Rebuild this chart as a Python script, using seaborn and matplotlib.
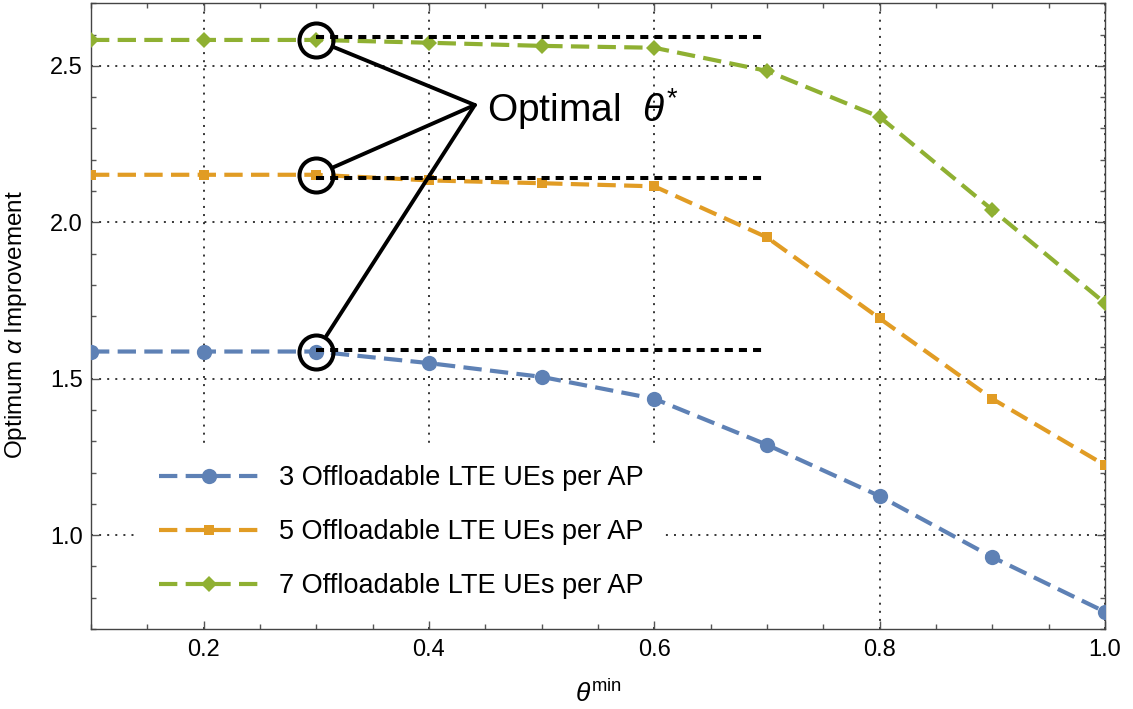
import matplotlib
matplotlib.use("Agg")
import matplotlib.pyplot as plt
from matplotlib.ticker import MultipleLocator
import seaborn as sns

# Optimum alpha improvement versus the minimum theta threshold
theta_min = [0.1, 0.2, 0.3, 0.4, 0.5, 0.6, 0.7, 0.8, 0.9, 1.0]
ues_3 = [1.587, 1.587, 1.587, 1.550, 1.506, 1.436, 1.289, 1.125, 0.930, 0.755]
ues_5 = [2.152, 2.152, 2.152, 2.134, 2.125, 2.115, 1.952, 1.693, 1.436, 1.224]
ues_7 = [2.583, 2.583, 2.583, 2.574, 2.564, 2.558, 2.484, 2.337, 2.040, 1.742]
series_labels = [
    "3 Offloadable LTE UEs per AP",
    "5 Offloadable LTE UEs per AP",
    "7 Offloadable LTE UEs per AP",
]

# Optimal operating point and the plateau levels it reaches
theta_opt = 0.3
opt_levels = [1.592, 2.141, 2.593]
opt_span = [0.3, 0.7]
annot_text = "Optimal  $\\theta^{*}$"

colors = ["#5E81B5", "#E19C24", "#8FB032"]
markers = ["o", "s", "D"]
marker_sizes = [11.0, 7.5, 8.5]

sns.set_theme(style="ticks")
plt.rcParams["font.family"] = ["Liberation Sans", "DejaVu Sans"]
plt.rcParams["text.color"] = "black"
plt.rcParams["axes.labelcolor"] = "black"
plt.rcParams["mathtext.fontset"] = "custom"
plt.rcParams["mathtext.rm"] = "Liberation Sans"
plt.rcParams["mathtext.it"] = "Liberation Sans:italic"
plt.rcParams["mathtext.bf"] = "Liberation Sans:bold"

fig = plt.figure(figsize=(11.33, 7.09), dpi=100)
ax = fig.add_axes([0.0803, 0.1128, 0.8949, 0.8825])

dash = (0, (4.4, 2.0))
for vals, lab, col, mk, ms in zip([ues_3, ues_5, ues_7], series_labels, colors, markers, marker_sizes):
    sns.lineplot(x=theta_min, y=vals, ax=ax, color=col, lw=3.0, linestyle=dash,
                 marker=mk, markersize=ms, markeredgewidth=0, label=lab, zorder=3)

# Plateau reference lines from the optimal threshold
for v in opt_levels:
    ax.plot(opt_span, [v, v], color="black", lw=2.9, linestyle=(0, (2.0, 1.5)), zorder=4)

# Circles around the optimal points and callout lines
opt_vals = [s[theta_min.index(theta_opt)] for s in (ues_3, ues_5, ues_7)]
ax.plot([theta_opt] * 3, opt_vals, "o", mfc="none", mec="black", ms=24.5, mew=2.9, zorder=6)
apex = (0.4407, 2.375)
for v in opt_vals:
    ax.annotate("", xy=(theta_opt, v), xytext=apex,
                arrowprops=dict(arrowstyle="-", color="black", lw=2.8,
                                shrinkA=0, shrinkB=13.5), zorder=6)
ax.text(0.4513, 2.321, annot_text, fontsize=28, color="black",
        ha="left", va="baseline", zorder=6)

ax.set_xlim(0.1, 1.0)
ax.set_ylim(0.70, 2.70)
ax.xaxis.set_major_locator(MultipleLocator(0.2))
ax.xaxis.set_minor_locator(MultipleLocator(0.05))
ax.yaxis.set_major_locator(MultipleLocator(0.5))
ax.yaxis.set_minor_locator(MultipleLocator(0.1))

ax.grid(True, which="major", color="black", lw=1.1, linestyle=(0, (1.3, 4.0)))
ax.set_axisbelow(True)

ax.tick_params(which="both", direction="in", top=True, right=True,
               color="#555555", width=1.0, labelsize=17, labelcolor="black")
ax.tick_params(which="major", length=6)
ax.tick_params(which="minor", length=3.5)
ax.tick_params(axis="x", pad=7.5)
ax.tick_params(axis="y", pad=6)
for sp in ax.spines.values():
    sp.set_visible(True)
    sp.set_color("#444444")
    sp.set_linewidth(1.0)

ax.set_xlabel("$\\theta^{\\mathrm{min}}$", fontsize=19, va="top")
ax.xaxis.set_label_coords(0.5, -0.082)
ax.set_ylabel("Optimum $\\alpha$ Improvement", fontsize=17.5)
ax.yaxis.set_label_coords(-0.061, 0.486)

leg = ax.legend(loc="upper left", bbox_to_anchor=(0.0454, 0.296), bbox_transform=ax.transAxes,
                frameon=True, fancybox=False, edgecolor="none", facecolor="white", framealpha=1,
                borderpad=0.8, borderaxespad=0, handlelength=3.7, handletextpad=0.75,
                labelspacing=1.03, fontsize=19.5, labelcolor="black")
leg.set_zorder(5)

fig.savefig("out.png", dpi=100)
